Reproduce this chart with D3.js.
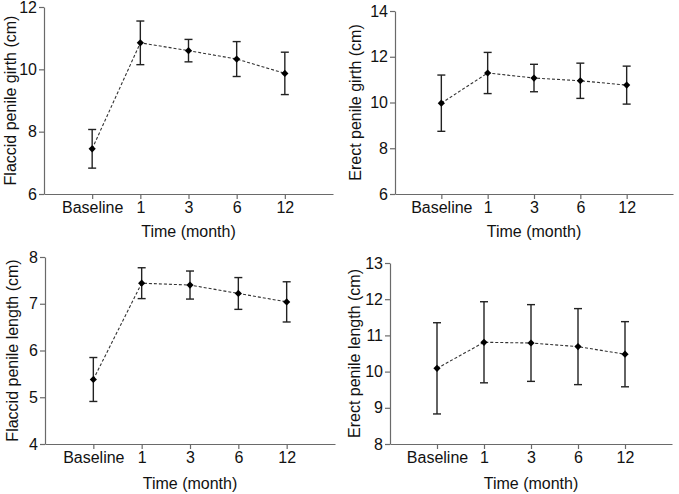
<!DOCTYPE html>
<html>
<head>
<meta charset="utf-8">
<script src="https://cdn.jsdelivr.net/npm/d3@7"></script>
<style>
  body { margin: 0; background: #fff; }
  svg { display: block; font-family: "Liberation Sans", Arial, sans-serif; }
</style>
</head>
<body>
<script>
// categories along x
var timepoints = ["Baseline", "1", "3", "6", "12"];

// mean and SD per panel
var flaccidGirthMean = [7.45, 10.85, 10.6, 10.33, 9.87];
var flaccidGirthSD   = [0.62, 0.7, 0.36, 0.56, 0.68];
var erectGirthMean   = [9.97, 11.29, 11.07, 10.95, 10.76];
var erectGirthSD     = [1.23, 0.9, 0.6, 0.77, 0.83];
var flaccidLenMean   = [5.38, 7.44, 7.40, 7.22, 7.04];
var flaccidLenSD     = [0.47, 0.33, 0.3, 0.34, 0.43];
var erectLenMean     = [10.09, 10.81, 10.79, 10.69, 10.48];
var erectLenSD       = [1.26, 1.12, 1.06, 1.05, 0.9];

// y tick labels
var flaccidGirthTicks = [6, 8, 10, 12];
var erectGirthTicks   = [6, 8, 10, 12, 14];
var flaccidLenTicks   = [4, 5, 6, 7, 8];
var erectLenTicks     = [8, 9, 10, 11, 12, 13];

var svg = d3.select("body").append("svg").attr("width", 679).attr("height", 494);

var panels = [
  {mean: flaccidGirthMean, sd: flaccidGirthSD, ticks: flaccidGirthTicks, title: "Flaccid penile girth (cm)",
   x0: 44, x1: 333, y0: 7, y1: 194, titleX: 10, xTitleDy: 43},
  {mean: erectGirthMean, sd: erectGirthSD, ticks: erectGirthTicks, title: "Erect penile girth (cm)",
   x0: 395, x1: 673, y0: 11, y1: 194, titleX: 355, xTitleDy: 43},
  {mean: flaccidLenMean, sd: flaccidLenSD, ticks: flaccidLenTicks, title: "Flaccid penile length (cm)",
   x0: 45, x1: 335, y0: 257, y1: 444, titleX: 12, xTitleDy: 45},
  {mean: erectLenMean, sd: erectLenSD, ticks: erectLenTicks, title: "Erect penile length (cm)",
   x0: 390, x1: 672, y0: 263, y1: 444, titleX: 354, xTitleDy: 45}
];

panels.forEach(function (p) {
  var x = d3.scalePoint().domain(timepoints).range([p.x0, p.x1]).padding(1);
  var y = d3.scaleLinear().domain(d3.extent(p.ticks)).range([p.y1, p.y0]);
  var g = svg.append("g");

  var xAxis = g.append("g").attr("transform", "translate(0," + p.y1 + ")")
    .call(d3.axisBottom(x).tickSize(5).tickSizeOuter(0).tickPadding(3));
  var yAxis = g.append("g").attr("transform", "translate(" + p.x0 + ",0)")
    .call(d3.axisLeft(y).tickValues(p.ticks).tickFormat(d3.format("d"))
      .tickSize(5).tickSizeOuter(0).tickPadding(2));
  [xAxis, yAxis].forEach(function (a) {
    a.select(".domain").attr("stroke", "#6a6a6a").attr("stroke-width", 1.2);
    a.selectAll(".tick line").attr("stroke", "#6a6a6a").attr("stroke-width", 1.2);
    a.selectAll(".tick text").attr("fill", "#111").style("font-size", "16px");
  });

  g.append("text").attr("x", (p.x0 + p.x1) / 2).attr("y", p.y1 + p.xTitleDy)
    .attr("text-anchor", "middle").style("font-size", "16px").attr("fill", "#111")
    .text("Time (month)");
  g.append("text").attr("transform", "translate(" + p.titleX + "," + ((p.y0 + p.y1) / 2) + ") rotate(-90)")
    .attr("text-anchor", "middle").attr("dy", "0.35em").style("font-size", "16px").attr("fill", "#111")
    .text(p.title);

  var data = timepoints.map(function (t, i) { return {t: t, m: p.mean[i], s: p.sd[i]}; });

  // connecting dashed line
  g.append("path").datum(data)
    .attr("fill", "none").attr("stroke", "#333").attr("stroke-width", 1.1)
    .attr("stroke-dasharray", "3,2")
    .attr("d", d3.line().x(function (d) { return x(d.t); }).y(function (d) { return y(d.m); }));

  // error bars
  var eb = g.selectAll(".eb").data(data).enter().append("g").attr("stroke", "#222").attr("stroke-width", 1.4);
  eb.append("line")
    .attr("x1", function (d) { return x(d.t); }).attr("x2", function (d) { return x(d.t); })
    .attr("y1", function (d) { return y(d.m - d.s); }).attr("y2", function (d) { return y(d.m + d.s); });
  eb.append("line")
    .attr("x1", function (d) { return x(d.t) - 4; }).attr("x2", function (d) { return x(d.t) + 4; })
    .attr("y1", function (d) { return y(d.m + d.s); }).attr("y2", function (d) { return y(d.m + d.s); });
  eb.append("line")
    .attr("x1", function (d) { return x(d.t) - 4; }).attr("x2", function (d) { return x(d.t) + 4; })
    .attr("y1", function (d) { return y(d.m - d.s); }).attr("y2", function (d) { return y(d.m - d.s); });

  // diamond markers
  g.selectAll(".pt").data(data).enter().append("path")
    .attr("transform", function (d) { return "translate(" + x(d.t) + "," + y(d.m) + ") rotate(45)"; })
    .attr("d", d3.symbol().type(d3.symbolSquare).size(26))
    .attr("fill", "#000");
});
</script>
</body>
</html>
